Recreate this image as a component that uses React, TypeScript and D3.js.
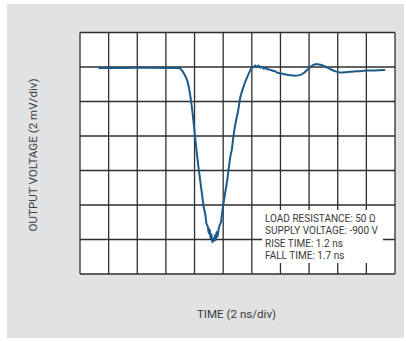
import React from "react";
import * as d3 from "d3";

// Time in divisions (2 ns/div), voltage in divisions (2 mV/div)
const traceX = [0.67, 1.5, 2.5, 3.2, 3.39, 3.5, 3.57, 3.65, 3.74, 3.83, 3.92, 4.03, 4.1, 4.18, 4.25, 4.32, 4.38, 4.42, 4.46, 4.5, 4.53, 4.56, 4.59, 4.62, 4.65, 4.68, 4.71, 4.74, 4.77, 4.8, 4.84, 4.88, 4.92, 4.96, 5.05, 5.14, 5.2, 5.25, 5.3, 5.37, 5.45, 5.52, 5.6, 5.68, 5.76, 5.84, 5.92, 6.0, 6.07, 6.12, 6.17, 6.24, 6.3, 6.36, 6.42, 6.48, 6.53, 6.6, 6.7, 6.8, 6.88, 7.1, 7.35, 7.55, 7.7, 7.82, 7.93, 8.05, 8.15, 8.22, 8.3, 8.45, 8.6, 8.74, 8.9, 9.09, 9.3, 9.56, 9.8, 10.02, 10.3, 10.63];
const traceY = [5.97, 5.97, 5.98, 5.97, 5.97, 5.95, 5.89, 5.78, 5.62, 5.28, 4.75, 3.88, 3.35, 2.82, 2.38, 1.95, 1.7, 1.45, 1.38, 1.18, 1.3, 1.03, 1.15, 0.92, 1.02, 0.96, 1.12, 0.98, 1.22, 1.08, 1.3, 1.42, 1.5, 1.76, 2.25, 2.72, 3.1, 3.4, 3.6, 4.07, 4.45, 4.72, 5.13, 5.35, 5.55, 5.71, 5.86, 5.98, 6.0, 6.04, 5.99, 6.04, 5.98, 6.01, 5.95, 5.98, 5.94, 5.93, 5.9, 5.88, 5.84, 5.8, 5.76, 5.75, 5.77, 5.83, 5.91, 6.0, 6.06, 6.08, 6.08, 6.05, 6.0, 5.94, 5.88, 5.84, 5.85, 5.87, 5.88, 5.9, 5.9, 5.91];

const xDivs = d3.range(0, 12);
const yDivs = d3.range(0, 8);

const legendLines = [
  "LOAD RESISTANCE: 50 Ω",
  "SUPPLY VOLTAGE: -900 V",
  "RISE TIME: 1.2 ns",
  "FALL TIME: 1.7 ns",
];

const xLabel = "TIME (2 ns/div)";
const yLabel = "OUTPUT VOLTAGE (2 mV/div)";

export default function App() {
  const W = 406;
  const H = 341;
  const left = 80, right = 395, top = 32.5, bottom = 274;
  const x = d3.scaleLinear().domain([0, 11]).range([left, right]);
  const y = d3.scaleLinear().domain([0, 7]).range([bottom, top]);
  const pts: [number, number][] = traceX.map((v, i) => [v, traceY[i]]);
  const line = d3
    .line<[number, number]>()
    .x((d) => x(d[0]))
    .y((d) => y(d[1]))
    .curve(d3.curveCatmullRom.alpha(0.5));

  const font = "Roboto, 'Noto Sans', sans-serif";
  const textColor = "#3a3a3a";
  const gridColor = "#2e2e2e";

  return (
    <svg
      width={W}
      height={H}
      style={{ position: "absolute", left: 0, top: 0, display: "block" }}
    >
      <rect x={0} y={0} width={W} height={H} fill="#ffffff" />
      <rect x={7} y={4} width={397} height={334} fill="#e1e2e4" />
      <rect x={left} y={top} width={right - left} height={bottom - top} fill="#ffffff" />
      {xDivs.map((d) => (
        <line
          key={"vx" + d}
          x1={x(d)}
          x2={x(d)}
          y1={top}
          y2={bottom}
          stroke={gridColor}
          strokeWidth={1.3}
        />
      ))}
      {yDivs.map((d) => (
        <line
          key={"hy" + d}
          x1={left}
          x2={right}
          y1={y(d)}
          y2={y(d)}
          stroke={gridColor}
          strokeWidth={1.3}
        />
      ))}
      <rect x={262} y={210} width={121} height={53} fill="#ffffff" />
      <path
        d={line(pts) || ""}
        fill="none"
        stroke="#1c5a8a"
        strokeWidth={2}
        strokeLinejoin="round"
        strokeLinecap="round"
      />
      {legendLines.map((t, i) => (
        <text
          key={t}
          x={265}
          y={221.8 + i * 12.4}
          fontFamily={font}
          fontSize={10}
          fill={textColor}
        >
          {t}
        </text>
      ))}
      <text
        x={236.5}
        y={317.5}
        textAnchor="middle"
        fontFamily={font}
        fontSize={11.6}
        fill={textColor}
      >
        {xLabel}
      </text>
      <text
        transform={`translate(36.5,155) rotate(-90)`}
        textAnchor="middle"
        fontFamily={font}
        fontSize={11.6}
        fill={textColor}
      >
        {yLabel}
      </text>
    </svg>
  );
}
